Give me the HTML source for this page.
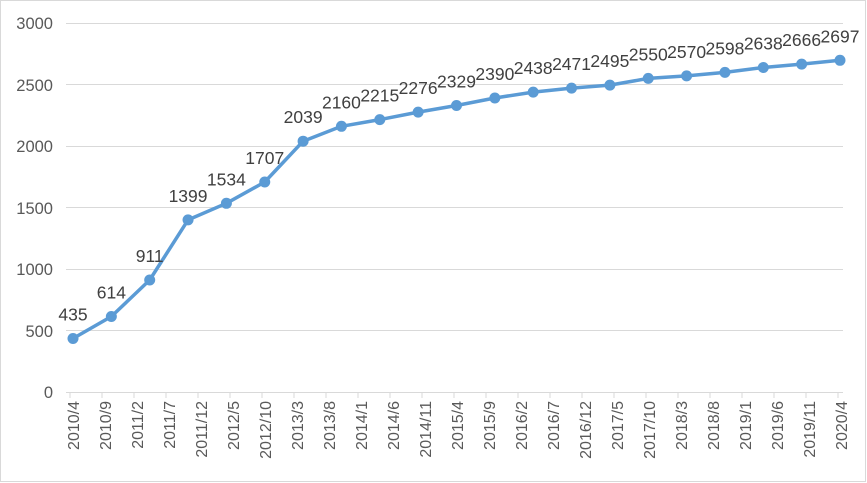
<!DOCTYPE html>
<html><head><meta charset="utf-8"><style>body{margin:0;background:#fff}svg{display:block}</style></head>
<body>
<svg width="867" height="483" xmlns="http://www.w3.org/2000/svg" font-family="Liberation Sans, sans-serif">
<rect x="0.5" y="0.5" width="865" height="481" fill="#fff" stroke="#d9d9d9"/>
<g stroke="#d9d9d9" stroke-width="1">
<line x1="66" x2="843" y1="23.5" y2="23.5"/><line x1="66" x2="843" y1="84.5" y2="84.5"/>
<line x1="66" x2="843" y1="146.5" y2="146.5"/><line x1="66" x2="843" y1="207.5" y2="207.5"/>
<line x1="66" x2="843" y1="269.5" y2="269.5"/><line x1="66" x2="843" y1="330.5" y2="330.5"/>
<line x1="66" x2="843" y1="392.5" y2="392.5"/>
</g>
<g stroke="#d9d9d9">
<path d="M70 392v6M102 392v6M134 392v6M166 392v6M198 392v6M230 392v6M262 392v6M294 392v6M326 392v6M358 392v6M390 392v6M422 392v6M454 392v6M486 392v6M518 392v6M550 392v6M582 392v6M614 392v6M646 392v6M678 392v6M710 392v6M742 392v6M774 392v6M806 392v6M838 392v6"/>
</g>
<g fill="#595959" font-size="16.5" text-anchor="end">
<text x="53" y="29">3000</text><text x="53" y="91">2500</text><text x="53" y="152">2000</text>
<text x="53" y="214">1500</text><text x="53" y="275">1000</text><text x="53" y="337">500</text><text x="53" y="398">0</text>
</g>
<g fill="#595959" font-size="16" text-anchor="end">
<text transform="translate(79,401) rotate(-90)">2010/4</text>
<text transform="translate(111,401) rotate(-90)">2010/9</text>
<text transform="translate(143,401) rotate(-90)">2011/2</text>
<text transform="translate(175,401) rotate(-90)">2011/7</text>
<text transform="translate(207,401) rotate(-90)">2011/12</text>
<text transform="translate(239,401) rotate(-90)">2012/5</text>
<text transform="translate(271,401) rotate(-90)">2012/10</text>
<text transform="translate(303,401) rotate(-90)">2013/3</text>
<text transform="translate(335,401) rotate(-90)">2013/8</text>
<text transform="translate(367,401) rotate(-90)">2014/1</text>
<text transform="translate(399,401) rotate(-90)">2014/6</text>
<text transform="translate(431,401) rotate(-90)">2014/11</text>
<text transform="translate(463,401) rotate(-90)">2015/4</text>
<text transform="translate(495,401) rotate(-90)">2015/9</text>
<text transform="translate(527,401) rotate(-90)">2016/2</text>
<text transform="translate(559,401) rotate(-90)">2016/7</text>
<text transform="translate(591,401) rotate(-90)">2016/12</text>
<text transform="translate(623,401) rotate(-90)">2017/5</text>
<text transform="translate(655,401) rotate(-90)">2017/10</text>
<text transform="translate(687,401) rotate(-90)">2018/3</text>
<text transform="translate(719,401) rotate(-90)">2018/8</text>
<text transform="translate(751,401) rotate(-90)">2019/1</text>
<text transform="translate(783,401) rotate(-90)">2019/6</text>
<text transform="translate(815,401) rotate(-90)">2019/11</text>
<text transform="translate(847,401) rotate(-90)">2020/4</text>
</g>
<polyline fill="none" stroke="#5b9bd5" stroke-width="3.5" stroke-linejoin="round" points="73,338.5 111.35,316.5 149.7,280 188.05,219.9 226.4,203.3 264.75,182 303.1,141.2 341.45,126.3 379.8,119.6 418.15,112.1 456.5,105.5 494.85,98 533.2,92.1 571.55,88.1 609.9,85.1 648.25,78.4 686.6,75.9 724.95,72.4 763.3,67.5 801.65,64.1 840,60.3"/>
<g fill="#5b9bd5">
<circle cx="73" cy="338.5" r="5.5"/><circle cx="111.35" cy="316.5" r="5.5"/><circle cx="149.7" cy="280" r="5.5"/>
<circle cx="188.05" cy="219.9" r="5.5"/><circle cx="226.4" cy="203.3" r="5.5"/><circle cx="264.75" cy="182" r="5.5"/>
<circle cx="303.1" cy="141.2" r="5.5"/><circle cx="341.45" cy="126.3" r="5.5"/><circle cx="379.8" cy="119.6" r="5.5"/>
<circle cx="418.15" cy="112.1" r="5.5"/><circle cx="456.5" cy="105.5" r="5.5"/><circle cx="494.85" cy="98" r="5.5"/>
<circle cx="533.2" cy="92.1" r="5.5"/><circle cx="571.55" cy="88.1" r="5.5"/><circle cx="609.9" cy="85.1" r="5.5"/>
<circle cx="648.25" cy="78.4" r="5.5"/><circle cx="686.6" cy="75.9" r="5.5"/><circle cx="724.95" cy="72.4" r="5.5"/>
<circle cx="763.3" cy="67.5" r="5.5"/><circle cx="801.65" cy="64.1" r="5.5"/><circle cx="840" cy="60.3" r="5.5"/>
</g>
<g fill="#404040" font-size="17.5" text-anchor="middle">
<text x="73" y="320.5">435</text><text x="111.35" y="298.5">614</text><text x="149.7" y="262">911</text>
<text x="188.05" y="201.9">1399</text><text x="226.4" y="185.3">1534</text><text x="264.75" y="164">1707</text>
<text x="303.1" y="123.2">2039</text><text x="341.45" y="108.3">2160</text><text x="379.8" y="101.6">2215</text>
<text x="418.15" y="94.1">2276</text><text x="456.5" y="87.5">2329</text><text x="494.85" y="80">2390</text>
<text x="533.2" y="74.1">2438</text><text x="571.55" y="70.1">2471</text><text x="609.9" y="67.1">2495</text>
<text x="648.25" y="60.4">2550</text><text x="686.6" y="57.9">2570</text><text x="724.95" y="54.4">2598</text>
<text x="763.3" y="49.5">2638</text><text x="801.65" y="46.1">2666</text><text x="840" y="42.3">2697</text>
</g>
</svg>
</body></html>
